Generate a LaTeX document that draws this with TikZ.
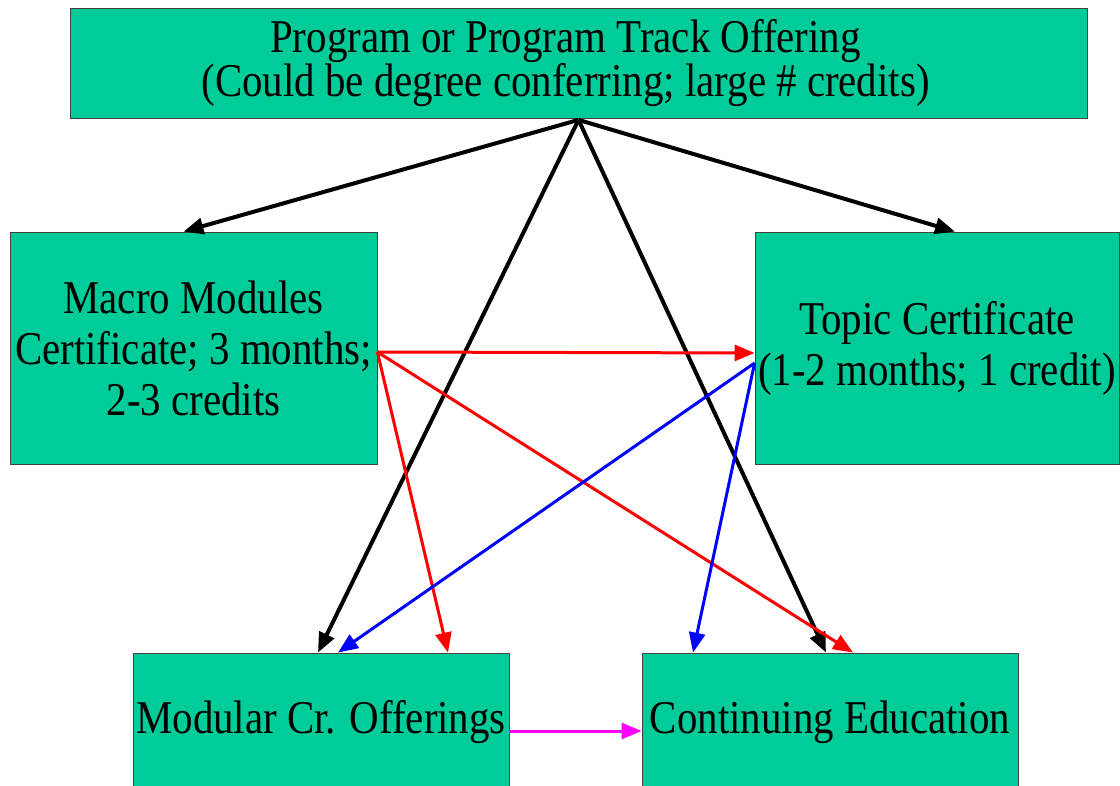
\documentclass[tikz,border=0pt]{standalone}
\usepackage{fontspec}
\setmainfont[FakeStretch=0.87]{Liberation Serif}
\usetikzlibrary{arrows.meta}
\definecolor{boxgreen}{HTML}{00CC99}
\definecolor{linkmagenta}{HTML}{FF00FF}
\begin{document}
\begin{tikzpicture}[x=0.5pt,y=-0.5pt,
    box/.style={draw=black!75,fill=boxgreen,thin,align=center,inner sep=0pt,
      font=\fontsize{23.5}{25.5}\selectfont},
    link/.style={line width=1.5pt,-{Triangle[length=10pt,width=8pt]}}]
    % Khung hình
    \clip (0,0) rectangle (1120,786);

    % Các hộp
    \node[box,minimum width=508.5pt,minimum height=55pt,font=\fontsize{23.5}{22}\selectfont] (prog) at (578.5,63.5)
      {Program or Program Track Offering\hspace*{13pt}\\(Could be degree conferring; large \# credits)\hspace*{13pt}};
    \node[box,minimum width=183.5pt,minimum height=116pt] (macro) at (193.5,348)
      {Macro Modules\\Certificate; 3 months;\\2-3 credits};
    \node[box,minimum width=182pt,minimum height=116pt] (topic) at (937,348)
      {Topic Certificate\\(1-2 months; 1 credit)};
    \node[box,minimum width=188pt,minimum height=69pt] (mod) at (321,722)
      {Modular Cr. Offerings};
    \node[box,minimum width=188pt,minimum height=69pt] (cont) at (830,722)
      {Continuing Education};

    % Mũi tên đen từ chương trình
    \foreach \t/\s in {macro/-5pt,topic/9pt,mod/-1.5pt,cont/-2pt}
    \draw[link,line width=2pt] ([yshift=-0.5pt]prog.south) -- ([xshift=\s]\t.north);

    % Mũi tên đỏ từ Macro Modules
    \draw[link,red] ([yshift=-2pt]macro.east) -- ([yshift=-2.5pt]topic.west);
    \draw[link,red] ([yshift=-2pt]macro.east) -- ([xshift=63.5pt]mod.north);
    \draw[link,red] ([yshift=-2pt]macro.east) -- ([xshift=11.5pt]cont.north);

    % Mũi tên xanh từ Topic Certificate
    \draw[link,blue] ([yshift=-7.5pt]topic.west) -- ([xshift=8.5pt]mod.north);
    \draw[link,blue] ([yshift=-7.5pt]topic.west) -- ([xshift=-68.5pt]cont.north);

    % Mũi tên tím
    \draw[link,linkmagenta] ([yshift=-4.5pt]mod.east) -- ([yshift=-4.5pt]cont.west);
\end{tikzpicture}
\end{document}
